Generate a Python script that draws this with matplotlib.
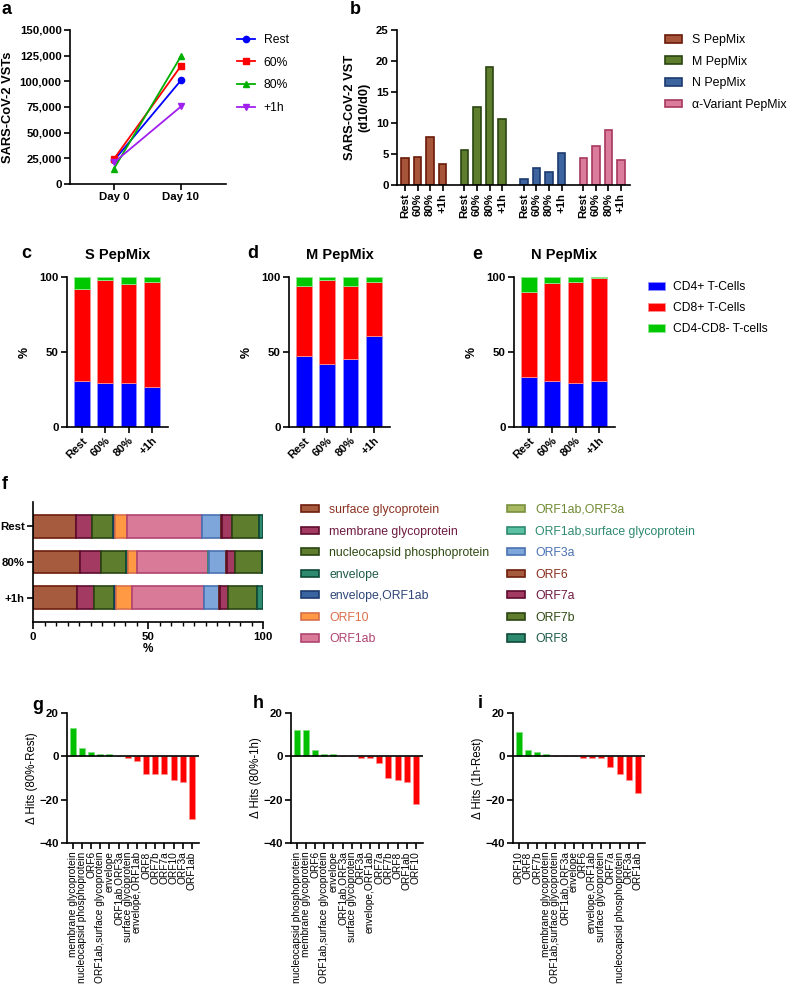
import numpy as np
import matplotlib
matplotlib.use('Agg')
import matplotlib.pyplot as plt
from matplotlib.patches import Patch
from matplotlib.ticker import FuncFormatter, MultipleLocator

plt.rcParams['font.family'] = ['Liberation Sans', 'DejaVu Sans']
plt.rcParams['font.weight'] = 'bold'
plt.rcParams['axes.labelweight'] = 'bold'
plt.rcParams['axes.titleweight'] = 'bold'
plt.rcParams['axes.linewidth'] = 1.2

# ---- panel a: expansion ----
days = ['Day 0', 'Day 10']
vst_rest = [23000, 101000]
vst_60 = [24500, 115000]
vst_80 = [15000, 124500]
vst_1h = [21000, 75500]

# ---- panel b: fold expansion by pepmix ----
conditions = ['Rest', '60%', '80%', '+1h']
pep_names = ['S PepMix', 'M PepMix', 'N PepMix', 'α-Variant PepMix']
ratio_s = [4.3, 4.5, 7.8, 3.4]
ratio_m = [5.7, 12.6, 19.0, 10.6]
ratio_n = [0.9, 2.8, 2.1, 5.2]
ratio_alpha = [4.4, 6.3, 8.8, 4.0]

# ---- panels c-e: T-cell subsets (%) ----
cell_types = ['CD4+ T-Cells', 'CD8+ T-Cells', 'CD4-CD8- T-cells']
s_cd4 = [30.5, 29.6, 29.6, 26.8]
s_cd8 = [61.5, 68.6, 65.5, 69.9]
s_dn = [8.0, 1.8, 4.9, 3.3]
m_cd4 = [47.3, 42.0, 45.4, 60.6]
m_cd8 = [46.9, 55.8, 48.8, 36.1]
m_dn = [5.8, 2.2, 5.8, 3.3]
n_cd4 = [33.3, 30.4, 29.6, 30.4]
n_cd8 = [56.7, 65.4, 67.1, 69.2]
n_dn = [10.0, 4.2, 3.3, 0.4]

# ---- panel f: TCR hits by antigen (%) ----
f_rows = ['Rest', '80%', '+1h']
antigens = ['surface glycoprotein', 'membrane glycoprotein', 'nucleocapsid phosphoprotein',
            'envelope', 'envelope,ORF1ab', 'ORF10', 'ORF1ab', 'ORF1ab,ORF3a',
            'ORF1ab,surface glycoprotein', 'ORF3a', 'ORF6', 'ORF7a', 'ORF7b', 'ORF8']
hits_pct = [
    [18.6, 20.3, 19.3],
    [7.1, 9.4, 7.3],
    [9.2, 10.9, 8.6],
    [0.3, 0.6, 0.3],
    [0.6, 0.3, 0.6],
    [4.9, 3.8, 6.8],
    [32.6, 30.8, 31.3],
    [0.0, 0.0, 0.0],
    [0.0, 0.3, 0.0],
    [8.4, 7.3, 6.8],
    [0.3, 0.8, 0.3],
    [4.4, 3.3, 3.6],
    [11.8, 11.8, 12.4],
    [1.9, 0.6, 2.6],
]

# ---- panels g-i: delta hits ----
g_labels = ['membrane glycoprotein', 'nucleocapsid phosphoprotein', 'ORF6',
            'ORF1ab,surface glycoprotein', 'envelope', 'ORF1ab,ORF3a',
            'surface glycoprotein', 'envelope,ORF1ab', 'ORF8', 'ORF7b', 'ORF7a',
            'ORF10', 'ORF3a', 'ORF1ab']
g_delta = [13, 4, 2, 1, 1, 0, -1, -2, -8, -8, -8, -11, -12, -29]
h_labels = ['nucleocapsid phosphoprotein', 'membrane glycoprotein', 'ORF6',
            'ORF1ab,surface glycoprotein', 'envelope', 'ORF1ab,ORF3a',
            'surface glycoprotein', 'ORF3a', 'envelope,ORF1ab', 'ORF7a', 'ORF7b',
            'ORF8', 'ORF1ab', 'ORF10']
h_delta = [12, 12, 3, 1, 1, 0, 0, -1, -1, -3, -10, -11, -12, -22]
i_labels = ['ORF10', 'ORF8', 'ORF7b', 'membrane glycoprotein',
            'ORF1ab,surface glycoprotein', 'ORF1ab,ORF3a', 'envelope', 'ORF6',
            'envelope,ORF1ab', 'surface glycoprotein', 'ORF7a',
            'nucleocapsid phosphoprotein', 'ORF3a', 'ORF1ab']
i_delta = [11, 3, 2, 1, 0, 0, 0, -1, -1, -1, -5, -8, -11, -17]

W, H = 789, 996


def box(l, t, r, b):
    return [l / W, 1 - b / H, (r - l) / W, (b - t) / H]


def anchor(x, y):
    return (x / W, 1 - y / H)


def style(ax, labelsize=8.2):
    ax.spines['top'].set_visible(False)
    ax.spines['right'].set_visible(False)
    ax.tick_params(direction='out', length=4, width=1.2, labelsize=labelsize, pad=2)


fig = plt.figure(figsize=(W / 100, H / 100), dpi=100)

# ---------------- a ----------------
ax = fig.add_axes(box(70, 30, 226, 184))
series_a = [('Rest', vst_rest, '#0000FF', 'o'), ('60%', vst_60, '#FF0000', 's'),
            ('80%', vst_80, '#00B000', '^'), ('+1h', vst_1h, '#A020F0', 'v')]
xd = np.arange(len(days))
for name, vals, col, mk in series_a:
    ax.plot(xd, vals, color=col, marker=mk, ms=4.5, lw=1.3, label=name)
ax.set_xlim(-0.657, 1.672)
ax.set_ylim(0, 150000)
ax.set_xticks(xd, days)
ax.yaxis.set_major_locator(MultipleLocator(25000))
ax.yaxis.set_major_formatter(FuncFormatter(lambda v, p: f'{int(v):,}'))
ax.set_ylabel('SARS-CoV-2 VSTs', fontsize=9.3)
style(ax)
ax.legend(loc='upper left', bbox_to_anchor=anchor(237, 34), bbox_transform=fig.transFigure,
          frameon=False, borderpad=0, borderaxespad=0, handlelength=1.5, handletextpad=0.7,
          labelspacing=0.88, prop={'weight': 'normal', 'size': 8.7})

# ---------------- b ----------------
ax = fig.add_axes(box(397, 30, 630, 185))
b_vals = [ratio_s, ratio_m, ratio_n, ratio_alpha]
b_fill = ['#A6553A', '#5E7E2E', '#3E64A0', '#DC7C9C']
b_edge = ['#6A1A08', '#2A4410', '#1C3A6E', '#A8385E']
ticks_b, labels_b = [], []
for gi, vals in enumerate(b_vals):
    xs = gi * 4.75 + np.arange(len(conditions))
    ax.bar(xs, vals, width=0.62, color=b_fill[gi], edgecolor=b_edge[gi], lw=1.2,
           label=pep_names[gi])
    ticks_b.extend(xs)
    labels_b.extend(conditions)
ax.set_xlim(-0.64, 3 * 4.75 + 3 + 0.72)
ax.set_ylim(0, 25)
ax.set_yticks(np.arange(0, 26, 5))
ax.set_xticks(ticks_b, labels_b, rotation=90)
ax.set_ylabel('SARS-CoV-2 VST\n(d10/d0)', fontsize=9.3)
style(ax)
ax.legend(loc='upper left', bbox_to_anchor=anchor(665, 34), bbox_transform=fig.transFigure,
          frameon=False, borderpad=0, borderaxespad=0, handlelength=1.4, handleheight=0.6,
          handletextpad=0.8, labelspacing=0.78, prop={'weight': 'normal', 'size': 8.9})

# ---------------- c, d, e ----------------
subset_colors = ['#0000FF', '#FF0000', '#00C800']
subset_edges = ['#9090FF', '#FF9090', '#90E890']
panels_ce = [(67, 'S PepMix', s_cd4, s_cd8, s_dn),
             (289, 'M PepMix', m_cd4, m_cd8, m_dn),
             (514, 'N PepMix', n_cd4, n_cd8, n_dn)]
xc = np.arange(len(conditions))
for left, title, cd4, cd8, dn in panels_ce:
    ax = fig.add_axes(box(left, 277, left + 101, 427))
    bottom = np.zeros(len(conditions))
    for vals, col, ec, name in zip([cd4, cd8, dn], subset_colors, subset_edges, cell_types):
        ax.bar(xc, vals, bottom=bottom, width=0.67, color=col, edgecolor=ec, lw=0.6, label=name)
        bottom = bottom + np.array(vals)
    ax.set_xlim(-0.64, 3.69)
    ax.set_ylim(0, 100)
    ax.set_yticks([0, 50, 100])
    ax.set_xticks(xc, conditions, rotation=45, ha='right', rotation_mode='anchor')
    ax.set_ylabel('%', fontsize=9, labelpad=6)
    ax.set_title(title, fontsize=10.5, pad=13)
    style(ax)
ax.legend(loc='upper left', bbox_to_anchor=anchor(648, 281), bbox_transform=fig.transFigure,
          frameon=False, borderpad=0, borderaxespad=0, handlelength=1.4, handleheight=0.6,
          handletextpad=0.7, labelspacing=0.75, prop={'weight': 'normal', 'size': 8.7})

# ---------------- f ----------------
f_fill = ['#A65A3E', '#A23A62', '#5E7E2E', '#2E8A6E', '#3A64A0', '#FF9944', '#D97A98',
          '#A8B860', '#5CC0A4', '#7FA6DA', '#A65A3E', '#A23A62', '#5E7E2E', '#2E8A6E']
f_edge = ['#6E1E0C', '#5E0C2E', '#2A4410', '#0E4A38', '#1C3A6E', '#D8704A', '#B04470',
          '#7A9040', '#2E8A70', '#4A72B2', '#6E1E0C', '#5E0C2E', '#2A4410', '#0E4A38']
f_text = ['#8A3020', '#6E1A3E', '#2F4A12', '#1E5A48', '#2F4678', '#D8704A', '#B04470',
          '#6E8A32', '#2E8A70', '#4A72B2', '#8A3020', '#6E1A3E', '#2F4A12', '#1E5A48']
ax = fig.add_axes(box(33, 502, 263, 622))
yf = np.arange(len(f_rows))
left_acc = np.zeros(len(f_rows))
for name, vals, fc, ec in zip(antigens, hits_pct, f_fill, f_edge):
    vals = np.array(vals)
    keep = vals > 0
    if keep.any():
        ax.barh(yf[keep], vals[keep], left=left_acc[keep], height=0.64, color=fc,
                edgecolor=ec, lw=1.2)
    left_acc = left_acc + vals
ax.set_ylim(2.67, -0.67)
ax.set_xlim(0, 100)
ax.set_yticks(yf, f_rows)
ax.set_xticks([0, 50, 100])
ax.xaxis.set_minor_locator(MultipleLocator(5))
ax.set_xlabel('%', fontsize=8.5, labelpad=1)
style(ax)
ax.tick_params(axis='x', which='major', length=5)
ax.tick_params(axis='x', which='minor', length=3, width=1.0)
handles_f = [Patch(facecolor=fc, edgecolor=ec, lw=1.2) for fc, ec in zip(f_fill, f_edge)]
for col, xpos in enumerate([301, 507]):
    sl = slice(col * 7, col * 7 + 7)
    leg = fig.legend(handles_f[sl], antigens[sl], loc='upper left', bbox_to_anchor=anchor(xpos, 504),
                     frameon=False, borderpad=0, borderaxespad=0, handlelength=1.5,
                     handleheight=0.55, handletextpad=0.8, labelspacing=0.78,
                     prop={'weight': 'normal', 'size': 8.8})
    for txt, c in zip(leg.get_texts(), f_text[sl]):
        txt.set_color(c)

# ---------------- g, h, i ----------------
panels_gi = [(67, g_labels, g_delta, 'Δ Hits (80%-Rest)'),
             (291, h_labels, h_delta, 'Δ Hits (80%-1h)'),
             (513, i_labels, i_delta, 'Δ Hits (1h-Rest)')]
for left, labels, deltas, ylab in panels_gi:
    ax = fig.add_axes(box(left, 713, left + 132, 843))
    xs = np.arange(len(labels))
    cols = ['#00C000' if v > 0 else '#FF0000' for v in deltas]
    ecs = ['#80E080' if v > 0 else '#FF9090' for v in deltas]
    ax.bar(xs, deltas, width=0.65, color=cols, edgecolor=ecs, lw=0.5)
    ax.axhline(0, color='black', lw=1.2)
    ax.set_xlim(-0.63, len(labels) - 1 + 0.77)
    ax.set_ylim(-40, 20)
    ax.set_yticks([-40, -20, 0, 20])
    ax.set_xticks(xs, labels, rotation=90, fontweight='normal')
    ax.set_ylabel(ylab, fontsize=8.3, fontweight='normal', labelpad=1)
    style(ax)
    ax.tick_params(axis='x', labelsize=7.3)

# panel letters
for letter, x, y in [('a', 7, 10), ('b', 355, 10), ('c', 26, 253), ('d', 253, 253),
                     ('e', 477, 254), ('f', 5, 484), ('g', 38, 705), ('h', 258, 703),
                     ('i', 480, 703)]:
    fig.text(x / W, 1 - y / H, letter, fontsize=13, ha='center', va='center')

fig.savefig('out.png', dpi=100)
